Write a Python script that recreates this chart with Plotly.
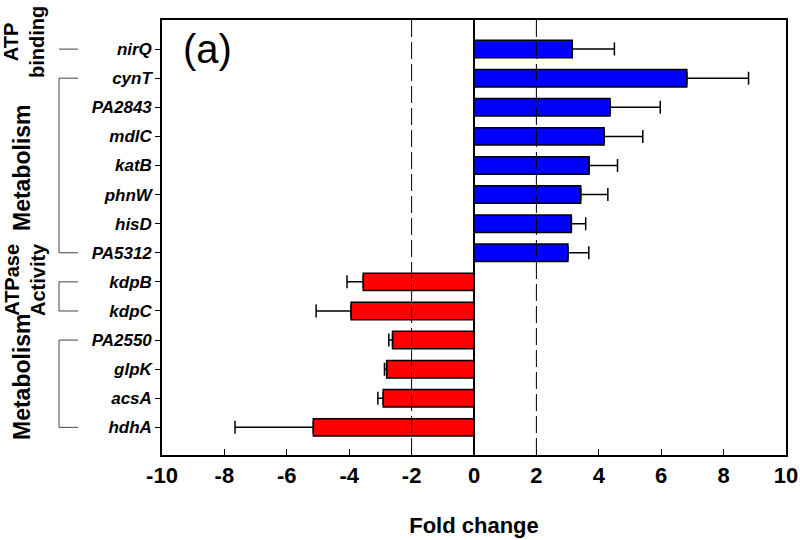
import plotly.graph_objects as go

# ---- data ----
genes = ["nirQ", "cynT", "PA2843", "mdlC", "katB", "phnW", "hisD", "PA5312",
         "kdpB", "kdpC", "PA2550", "glpK", "acsA", "hdhA"]
fold_change = [3.15, 6.82, 4.36, 4.17, 3.69, 3.42, 3.12, 3.01,
               -3.55, -3.94, -2.61, -2.80, -2.91, -5.15]
error = [1.35, 1.98, 1.61, 1.24, 0.91, 0.87, 0.46, 0.67,
         0.52, 1.12, 0.12, 0.07, 0.17, 2.51]
x_ticks = [-10, -8, -6, -4, -2, 0, 2, 4, 6, 8, 10]
groups = [("ATP<br>binding", 0, 0), ("Metabolism", 1, 7),
          ("ATPase<br>Activity", 8, 9), ("Metabolism", 10, 13)]
group_label_y = [42, 168, 280, 377]   # pixel centre of each group label
group_label_x = [24, 22, 25, 22]
group_font = [20, 23, 20, 23]

FONT = "Liberation Sans, Arial, sans-serif"
W, H = 800, 540
L, R, T, B = 162, 14, 20, 85
PW, PH = W - L - R, H - T - B
Y_TOP, Y_BOT = -1.0, 13.95


def px2x(px):
    return (px - L) / PW


def px2y(py):
    return 1 - (py - T) / PH


def cat2y(i):
    return (Y_BOT - i) / (Y_BOT - Y_TOP)


ypos = list(range(len(genes)))
pos_idx = [i for i, v in enumerate(fold_change) if v >= 0]
neg_idx = [i for i, v in enumerate(fold_change) if v < 0]

fig = go.Figure()
fig.add_trace(go.Bar(
    x=[fold_change[i] for i in pos_idx], y=[ypos[i] for i in pos_idx],
    orientation="h", width=0.6,
    marker=dict(color="#0000FF", line=dict(color="black", width=1.5)),
    error_x=dict(type="data", symmetric=False,
                 array=[error[i] for i in pos_idx],
                 arrayminus=[0] * len(pos_idx),
                 color="black", thickness=1.5, width=6.5),
))
fig.add_trace(go.Bar(
    x=[fold_change[i] for i in neg_idx], y=[ypos[i] for i in neg_idx],
    orientation="h", width=0.6,
    marker=dict(color="#FF0000", line=dict(color="black", width=1.5)),
    error_x=dict(type="data", symmetric=False,
                 array=[0] * len(neg_idx),
                 arrayminus=[error[i] for i in neg_idx],
                 color="black", thickness=1.5, width=6.5),
))

shapes = []
for xv in (-2, 2):
    shapes.append(dict(type="line", xref="x", yref="paper", x0=xv, x1=xv, y0=0, y1=1,
                       line=dict(color="black", width=1, dash="17px,5px"), layer="above"))

annotations = [dict(text="(a)", xref="paper", yref="paper", x=px2x(207), y=px2y(49),
                    showarrow=False, font=dict(family=FONT, size=40, color="black"),
                    xanchor="center", yanchor="middle")]

bx0, bx1 = px2x(59), px2x(78)
for (label, i0, i1), ly, lx, fs in zip(groups, group_label_y, group_label_x, group_font):
    y0, y1 = cat2y(i0), cat2y(i1)
    if i0 == i1:
        shapes.append(dict(type="line", xref="paper", yref="paper", x0=bx0, x1=bx1, y0=y0, y1=y0,
                           line=dict(color="#444", width=1)))
    else:
        shapes.append(dict(type="path", xref="paper", yref="paper",
                           path=f"M {bx1} {y0} L {bx0} {y0} L {bx0} {y1} L {bx1} {y1}",
                           line=dict(color="#444", width=1)))
    annotations.append(dict(text=f"<b>{label}</b>", xref="paper", yref="paper",
                            x=px2x(lx), y=px2y(ly), showarrow=False, textangle=-90,
                            font=dict(family=FONT, size=fs, color="black"),
                            xanchor="center", yanchor="middle"))

fig.update_layout(
    width=W, height=H, margin=dict(l=L, r=R, t=T, b=B, autoexpand=False),
    paper_bgcolor="white", plot_bgcolor="white",
    showlegend=False, barmode="overlay",
    font=dict(family=FONT, color="black"),
    shapes=shapes, annotations=annotations,
    xaxis=dict(range=[-10, 10], tickvals=x_ticks, ticktext=[f"<b>{v}</b>" for v in x_ticks],
               ticks="inside", ticklen=6, tickwidth=1.2, tickcolor="black",
               showline=True, linecolor="black", linewidth=1.5, mirror=True,
               showgrid=False, zeroline=True, zerolinecolor="black", zerolinewidth=1.5,
               automargin=False,
               tickfont=dict(family=FONT, size=22, color="black"),
               title=dict(text="<b>Fold change</b>", font=dict(family=FONT, size=22, color="black"),
                          standoff=30)),
    yaxis=dict(range=[Y_BOT, Y_TOP], tickvals=ypos, ticktext=[f"<b><i>{g}</i></b>" for g in genes],
               ticks="outside", ticklen=5, tickwidth=1.2, tickcolor="black",
               showline=True, linecolor="black", linewidth=1.5, mirror=True,
               showgrid=False, zeroline=False, automargin=False,
               tickfont=dict(family=FONT, size=17, color="black")),
)

fig.write_html("out.html", config={"displayModeBar": False},
               post_script="document.body.style.margin='0';document.body.style.padding='0';")
